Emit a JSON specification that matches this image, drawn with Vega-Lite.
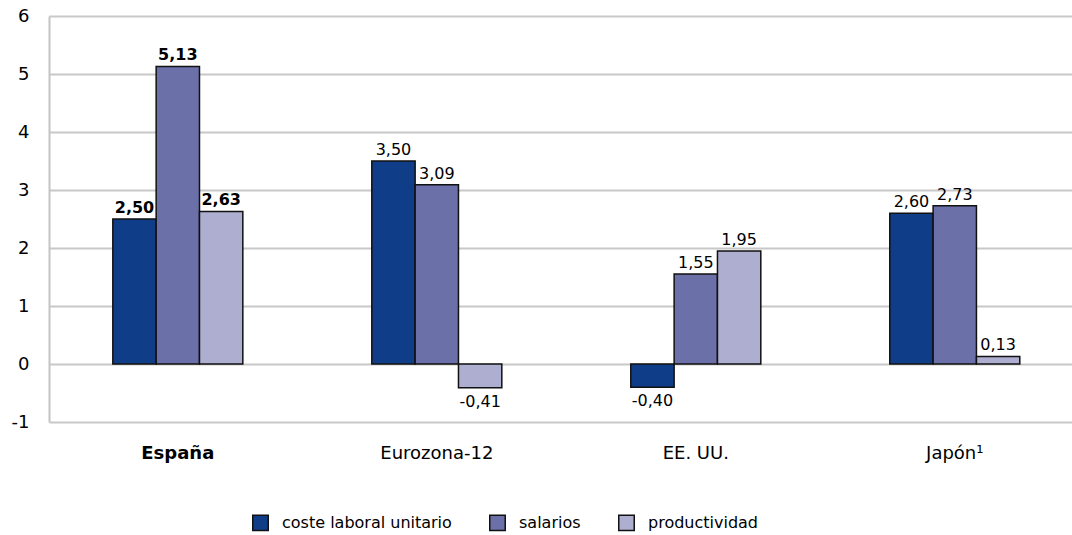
{
  "$schema": "https://vega.github.io/schema/vega-lite/v6.json",
  "width": 1023,
  "height": 406,
  "autosize": {"type": "none"},
  "padding": {"left": 49, "top": 16, "right": 0, "bottom": 113},
  "background": "white",
  "config": {
    "view": {"stroke": null},
    "font": "DejaVu Sans",
    "locale": {"number": {"decimal": ",", "thousands": ".", "grouping": [3], "currency": ["", " €"], "minus": "-"}}
  },
  "data": {"values": [
    {"pais": "España", "serie": "coste laboral unitario", "valor": 2.50},
    {"pais": "España", "serie": "salarios", "valor": 5.13},
    {"pais": "España", "serie": "productividad", "valor": 2.63},
    {"pais": "Eurozona-12", "serie": "coste laboral unitario", "valor": 3.50},
    {"pais": "Eurozona-12", "serie": "salarios", "valor": 3.09},
    {"pais": "Eurozona-12", "serie": "productividad", "valor": -0.41},
    {"pais": "EE. UU.", "serie": "coste laboral unitario", "valor": -0.40},
    {"pais": "EE. UU.", "serie": "salarios", "valor": 1.55},
    {"pais": "EE. UU.", "serie": "productividad", "valor": 1.95},
    {"pais": "Japón¹", "serie": "coste laboral unitario", "valor": 2.60},
    {"pais": "Japón¹", "serie": "salarios", "valor": 2.73},
    {"pais": "Japón¹", "serie": "productividad", "valor": 0.13}
  ]},
  "encoding": {
    "x": {
      "field": "pais", "type": "nominal",
      "sort": ["España", "Eurozona-12", "EE. UU.", "Japón¹"],
      "scale": {"paddingInner": 0.498, "paddingOuter": 0.224, "align": 0.55},
      "axis": {
        "title": null, "domain": false, "ticks": false, "labelAngle": 0,
        "labelPadding": 22, "labelFontSize": 18, "labelColor": "#000000",
        "labelFontWeight": {"condition": {"test": "datum.value == 'España'", "value": "bold"}, "value": "normal"}
      }
    },
    "xOffset": {
      "field": "serie", "type": "nominal",
      "sort": ["coste laboral unitario", "salarios", "productividad"],
      "scale": {"paddingInner": 0, "paddingOuter": 0}
    },
    "y": {
      "field": "valor", "type": "quantitative",
      "scale": {"domain": [-1, 6], "nice": false, "zero": false},
      "axis": {
        "title": null, "values": [-1, 0, 1, 2, 3, 4, 5, 6], "format": "d",
        "ticks": false, "domainColor": "#C4C4C4", "domainWidth": 2,
        "grid": true, "gridColor": "#C8C8C8", "gridWidth": 2,
        "labelPadding": 20, "labelFontSize": 18, "labelColor": "#000000"
      }
    }
  },
  "layer": [
    {
      "mark": {"type": "bar", "stroke": "#111111", "strokeWidth": 1.5},
      "encoding": {
        "color": {
          "field": "serie", "type": "nominal",
          "sort": ["coste laboral unitario", "salarios", "productividad"],
          "scale": {"domain": ["coste laboral unitario", "salarios", "productividad"], "range": ["#103D88", "#6B70A8", "#AEAED0"]},
          "legend": {
            "title": null, "orient": "none", "direction": "horizontal",
            "legendX": 203, "legendY": 498,
            "symbolType": "square", "symbolSize": 240,
            "symbolStrokeColor": "#111111", "symbolStrokeWidth": 1.5,
            "symbolOpacity": 1,
            "labelFontSize": 16, "labelColor": "#000000", "labelOffset": 13,
            "labelLimit": 400, "columnPadding": 34
          }
        }
      }
    },
    {
      "transform": [{"filter": "datum.valor >= 0 && datum.pais == 'España'"}],
      "mark": {"type": "text", "baseline": "alphabetic", "dy": -6, "fontSize": 16, "fontWeight": "bold", "color": "#000000"},
      "encoding": {"text": {"field": "valor", "type": "quantitative", "format": ".2f"}}
    },
    {
      "transform": [{"filter": "datum.valor >= 0 && datum.pais != 'España'"}],
      "mark": {"type": "text", "baseline": "alphabetic", "dy": -6, "fontSize": 16, "color": "#000000"},
      "encoding": {"text": {"field": "valor", "type": "quantitative", "format": ".2f"}}
    },
    {
      "transform": [{"filter": "datum.valor < 0"}],
      "mark": {"type": "text", "baseline": "top", "dy": 6, "fontSize": 16, "color": "#000000"},
      "encoding": {"text": {"field": "valor", "type": "quantitative", "format": ".2f"}}
    }
  ]
}
